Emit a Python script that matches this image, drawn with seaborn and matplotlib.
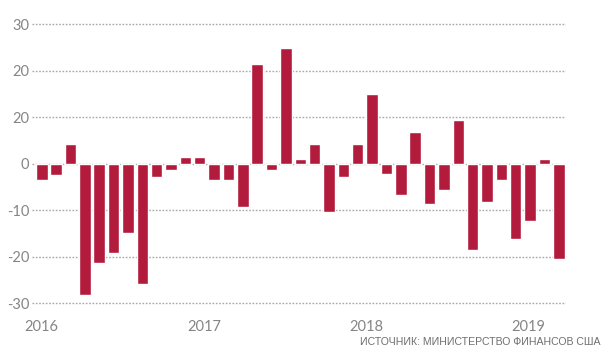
import matplotlib
matplotlib.use("Agg")
import matplotlib.pyplot as plt
import seaborn as sns
import pandas as pd

# ---- data ----
periods = list(range(37))
values = [-3.5, -2.4, 4.3, -28.3, -21.3, -19.2, -15.0, -26.0, -2.8, -1.4,
          1.4, 1.5, -3.5, -3.5, -9.3, 21.3, -1.5, 24.8, 1.0, 4.3,
          -10.5, -2.9, 4.3, 15.0, -2.3, -6.8, 6.8, -8.7, -5.8, 9.4,
          -18.6, -8.2, -3.5, -16.3, -12.3, 1.0, -20.6]
year_labels = ["2016", "2017", "2018", "2019"]
year_positions = [0, 11.3, 22.6, 33.9]
y_ticks = [-30, -20, -10, 0, 10, 20, 30]
y_tick_labels = ["-30", "-20", "-10", "0", "20", "20", "30"]
source_text = "ИСТОЧНИК: МИНИСТЕРСТВО ФИНАНСОВ США"

df = pd.DataFrame({"period": periods, "value": values})

sns.set_theme(style="white")
plt.rcParams["font.family"] = ["Lato", "DejaVu Sans"]

BAR = "#B31B3C"
GRAY = "#858585"

fig = plt.figure(figsize=(6.01, 3.47), dpi=100)
ax = fig.add_axes([32 / 601, 0.1134, (566 - 32) / 601, 0.8308])

sns.barplot(data=df, x="period", y="value", order=periods, color=BAR,
            saturation=1, width=0.8, ax=ax, zorder=3)

ax.set_xlim(-0.68, 36.5)
ax.set_ylim(-31, 31)
ax.set_yticks(y_ticks)
ax.set_yticklabels(y_tick_labels)
ax.set_xticks(year_positions)
ax.set_xticklabels(year_labels)
ax.set_xlabel("")
ax.set_ylabel("")

for s in ax.spines.values():
    s.set_visible(False)

ax.yaxis.grid(True, linestyle=(0, (1.2, 1.2)), color="#a8a8a8", linewidth=1)
ax.xaxis.grid(False)
ax.set_axisbelow(True)

ax.tick_params(axis="y", length=0, pad=2, labelsize=10.5, labelcolor=GRAY)
ax.tick_params(axis="x", length=0, pad=9, labelsize=10.5, labelcolor=GRAY)

fig.text(1.0, 0.0, source_text, ha="right", va="bottom", fontsize=7.6,
         color="#6f6f6f", family=["Liberation Sans", "DejaVu Sans"])

fig.savefig("out.png", dpi=100)
